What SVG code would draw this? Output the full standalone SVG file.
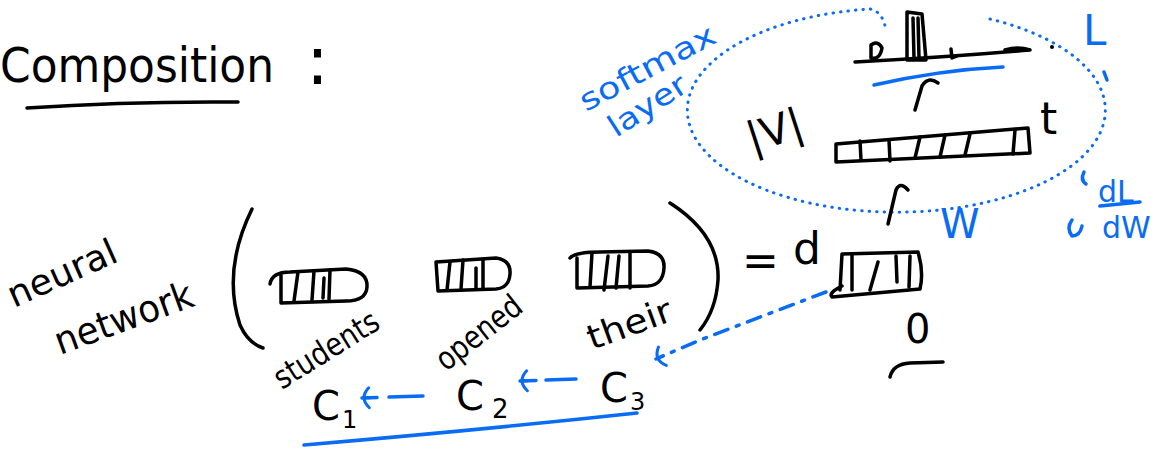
<svg xmlns="http://www.w3.org/2000/svg" width="1158" height="451" viewBox="0 0 1158 451">
<style>
.k{fill:#000;font-family:"DejaVu Sans","Liberation Sans",sans-serif}
.b{fill:#0a6cf5;font-family:"DejaVu Sans","Liberation Sans",sans-serif}
.ks{fill:none;stroke:#000;stroke-width:3.5;stroke-linecap:round;stroke-linejoin:round}
.bs{fill:none;stroke:#0a6cf5;stroke-width:3.5;stroke-linecap:round;stroke-linejoin:round}
.dot{fill:none;stroke:#0a6cf5;stroke-width:3;stroke-linecap:round;stroke-dasharray:0.5 7}
</style>
<defs>
<marker id="bh" viewBox="-12 -12 16 24" markerWidth="16" markerHeight="24" refX="0" refY="0" orient="auto" markerUnits="userSpaceOnUse">
<path d="M-7,-10 Q3,0 -7,10 M-8,0 L-4,0" fill="none" stroke="#0a6cf5" stroke-width="3" stroke-linecap="round"/>
</marker>
</defs>
<rect width="1158" height="451" fill="#fff"/>

<g id="title">
<text class="k" x="0" y="82" font-size="48" textLength="274" lengthAdjust="spacingAndGlyphs">Composition</text>
<path class="ks" d="M27,108 Q130,101 238,102"/>
<text class="k" x="306" y="84" font-size="68">:</text>
</g>

<g id="nn-label">
<text class="k" transform="translate(14,308) rotate(-24)" font-size="36" textLength="116" lengthAdjust="spacingAndGlyphs">neural</text>
<text class="k" transform="translate(60,355) rotate(-20)" font-size="38" textLength="145" lengthAdjust="spacingAndGlyphs">network</text>
</g>

<g id="parens">
<path class="ks" d="M252,209 Q222,270 240,325 Q248,343 263,348"/>
<path class="ks" d="M670,203 Q720,235 718,280 Q716,310 700,330"/>
</g>

<g id="vec-students">
<path class="ks" d="M270,284 Q272,272 290,272 L346,269 Q368,271 367,287 Q366,301 346,301 L281,303 L281,275"/>
<path class="ks" d="M298,272 L294,301 M314,271 L312,300 M324,278 L323,298 M330,270 L329,299"/>
<text class="k" transform="translate(282,390) rotate(-32)" font-size="32" textLength="118" lengthAdjust="spacingAndGlyphs">students</text>
</g>
<g id="vec-opened">
<path class="ks" d="M436,262 L496,258 Q511,260 510,274 Q509,288 496,289 L438,291 Z"/>
<path class="ks" d="M450,262 L447,290 M463,260 L461,289 M476,268 L476,288 M483,260 L483,289"/>
<text class="k" transform="translate(446,372) rotate(-38)" font-size="32" textLength="100" lengthAdjust="spacingAndGlyphs">opened</text>
</g>
<g id="vec-their">
<path class="ks" d="M570,258 Q575,252 600,252 L648,251 Q665,253 664,268 Q663,285 648,286 L577,288 L577,258"/>
<path class="ks" d="M592,253 L590,287 M608,256 L604,290 M619,256 L616,288 M630,252 L630,288"/>
<text class="k" transform="translate(592,350) rotate(-20)" font-size="34" textLength="88" lengthAdjust="spacingAndGlyphs">their</text>
</g>

<g id="c1">
<text class="k" x="312" y="420" font-size="40">C</text>
<text class="k" x="342" y="428" font-size="24">1</text>
</g>
<g id="c2">
<text class="k" x="456" y="410" font-size="40">C</text>
<text class="k" x="492" y="418" font-size="26">2</text>
</g>
<g id="c3">
<text class="k" x="600" y="402" font-size="40">C</text>
<text class="k" x="630" y="410" font-size="24">3</text>
</g>
<path class="bs" d="M304,445 Q480,430 637,413"/>

<g id="equals">
<text class="k" x="742" y="276" font-size="44">=</text>
<text class="k" x="793" y="264" font-size="44">d</text>
</g>

<g id="hidden">
<path class="ks" d="M842,254 L918,252 Q924,272 920,289 L832,297 Q828,293 842,286 M842,254 L840,290"/>
<path class="ks" d="M852,254 L852,290 M878,262 L870,290 M896,256 L897,282 M910,256 L909,287"/>
</g>

<g id="theta">
<text class="k" x="905" y="343" font-size="40">0</text>
<path class="ks" d="M890,377 Q893,364 910,363 L943,362"/>
</g>

<g id="softmax">
<path class="dot" d="M990,19 A209,102 0 1 1 870,9 Q884,12 886,32"/>
<text class="b" transform="translate(586,112) rotate(-28)" font-size="30" textLength="150" lengthAdjust="spacingAndGlyphs">softmax</text>
<text class="b" transform="translate(616,138) rotate(-33)" font-size="30" textLength="88" lengthAdjust="spacingAndGlyphs">layer</text>
<text class="k" transform="translate(752,153) rotate(-18)" font-size="42">|V|</text>
<path class="ks" d="M836,144 L1028,128 L1030,153 L836,162 L836,144"/>
<path class="ks" d="M860,141 L861,160 M889,140 L890,161 M920,137 L915,158 M945,135 L940,157 M970,134 L965,155 M1015,130 L1013,154"/>
<text class="k" x="1040" y="134" font-size="44">t</text>
<path class="ks" d="M855,62 Q950,57 1030,50 Q1018,46 1005,50"/>
<path class="ks" d="M871,45 Q878,40 882,48 Q880,60 871,58 Z M907,12 L922,14 L926,60 L907,60 Z M913,18 L914,58 M918,18 L919,58 M951,49 L952,58 L957,56"/>
<circle cx="1052" cy="47" r="2" fill="#000"/>
<path class="bs" d="M874,85 Q940,70 1003,67"/>
<text class="b" x="1083" y="45" font-size="42">L</text>
<path class="bs" d="M1104,72 L1107,80"/>
<text class="b" x="940" y="238" font-size="40">W</text>
<text class="b" x="1098" y="202" font-size="30">dL</text>
<path class="bs" d="M1100,206 L1140,202"/>
<text class="b" x="1102" y="238" font-size="30">dW</text>
<path class="bs" d="M1084,172 Q1080,180 1086,184 M1072,220 Q1066,228 1072,236 Q1080,236 1082,226"/>
</g>

<g id="connectors">
<path class="ks" d="M888,224 L896,190 Q900,181 908,190"/>
<path class="ks" d="M915,110 L922,86 Q928,76 938,83"/>
<path class="bs" d="M826,292 L700,340 L656,359" stroke-dasharray="14 9 3 9" marker-end="url(#bh)"/>
<path class="bs" d="M576,379 L520,381" stroke-dasharray="30 10" marker-end="url(#bh)"/>
<path class="bs" d="M423,396 L362,398" stroke-dasharray="34 12" marker-end="url(#bh)"/>
</g>
</svg>
